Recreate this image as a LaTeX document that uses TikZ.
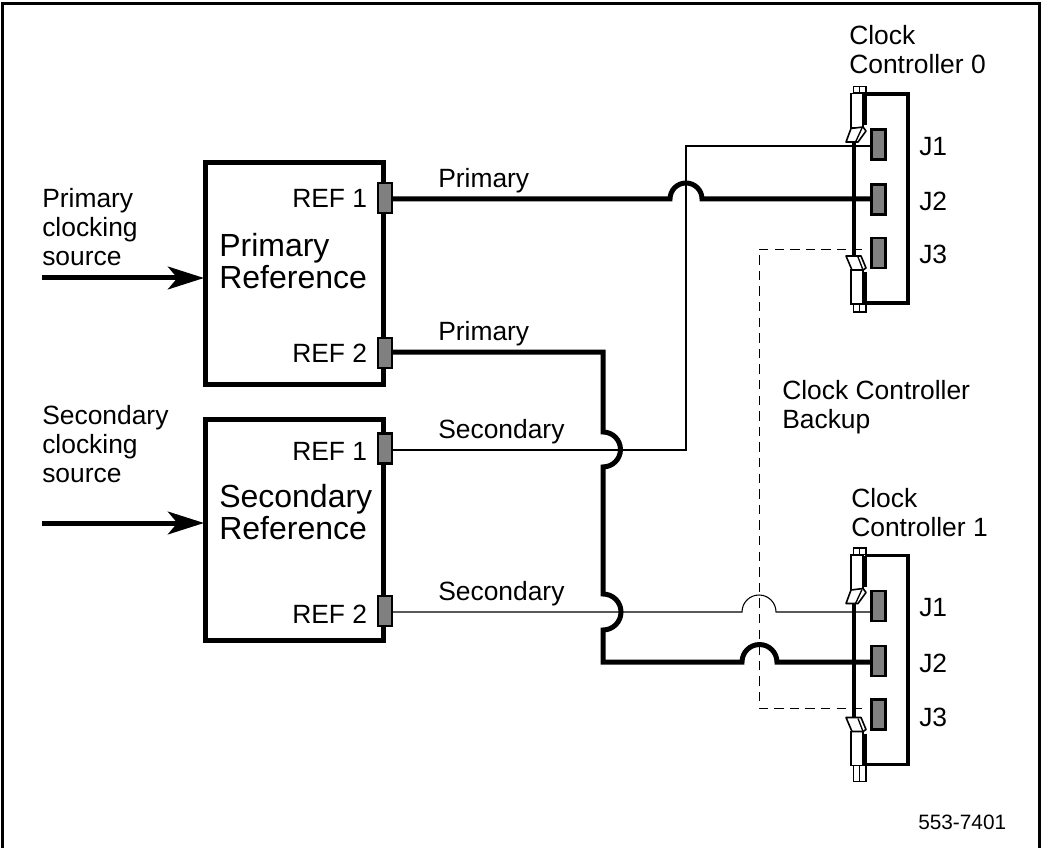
\documentclass[tikz,border=0pt]{standalone}
\usepackage{fontspec}
\setmainfont{Liberation Sans}
\usetikzlibrary{arrows.meta}
\definecolor{portgray}{gray}{0.5}
\tikzset{
 x=0.75pt,y=-0.75pt,
 frame/.style={draw=black,line width=2.6pt},
 unit/.style={draw=black,line width=3.75pt,minimum width=133.5pt,minimum height=165.75pt,inner sep=0pt,outer sep=0pt},
 port/.style={draw=black,fill=portgray,line width=1.9pt,minimum width=10.5pt,minimum height=22.5pt,inner sep=0pt,outer sep=0pt},
 thick wire/.style={line width=3.75pt,line join=miter},
 thin wire/.style={line width=0.8pt},
 dash wire/.style={line width=0.7pt,dash pattern=on 7pt off 4.7pt},
 feed/.style={line width=3.75pt,-{Stealth[length=27pt,width=17pt,inset=7pt]}},
 lab/.style={font=\fontsize{19.8}{21.75}\selectfont,inner sep=0pt,align=left,anchor=west},
 big/.style={font=\fontsize{24}{24}\selectfont,inner sep=0pt,align=left,anchor=west},
 small/.style={font=\fontsize{15.6}{18}\selectfont,inner sep=0pt,anchor=west},
 pullbody/.style={draw=black,fill=white,line width=1.2pt},
}
\newcommand{\controller}[3]{% name, y offset, bottom tab end
 \begin{scope}[shift={(0,#2)}]
  \draw[black,line width=2.6pt] (865,94) -- (908,94) -- (908,303) -- (865,303);
  \draw[black,line width=2.6pt] (865,94) -- (865,125);
  \draw[black,line width=2.6pt] (865,272) -- (865,303);
  \draw[black,line width=2.8pt] (854,142) -- (854,257);
  \node[port] (#1j1) at (878.5,144.5) {};
  \node[port] (#1j2) at (878.5,199.5) {};
  \node[port] (#1j3) at (878.5,253) {};
  \draw[pullbody] (853.5,86.5) rectangle (859.5,93);
  \draw[pullbody] (859.5,86.5) rectangle (866,93);
  \draw[pullbody] (851,93.5) rectangle (863,128);
  \draw[pullbody,line join=round] (846,142) -- (851,128.5) -- (863,127) -- (866,131) -- (858,142) -- cycle;
  \draw[line width=1pt] (855.5,142) -- (862,128);
  \draw[pullbody] (851,270) rectangle (863,304);
  \draw[pullbody] (853.5,304) rectangle (859.5,#3);
  \draw[pullbody] (859.5,304) rectangle (866,#3);
  \draw[pullbody,line join=round] (846,256) -- (861,256) -- (866,268) -- (863,270) -- (852,270) -- cycle;
  \draw[line width=1pt] (858,257) -- (863,270);
 \end{scope}
}
\begin{document}
\begin{tikzpicture}
\useasboundingbox (0,0) rectangle (1044,848);
\draw[frame,line cap=butt] (2.5,848) -- (2.5,3.5) -- (1039.5,3.5) -- (1039.5,848);
\node[unit] (pu) at (294,273.5) {};
\node[unit] (su) at (294,529.5) {};
\coordinate (h1a) at (670,199); \coordinate (h1b) at (702,199);
\coordinate (cnr1) at (603,352);
\coordinate (h2a) at (603,432); \coordinate (h2b) at (603,467);
\coordinate (h3a) at (603,594); \coordinate (h3b) at (603,630);
\coordinate (cnr2) at (603,662);
\coordinate (h4a) at (742,662);
\coordinate (h5a) at (742,612);
\coordinate (t1) at (686,450); \coordinate (t2) at (686,146);
\coordinate (d0) at (862,249); \coordinate (d1) at (759,249);
\coordinate (d2) at (759,708); \coordinate (d3) at (862,708);
\coordinate (in1s) at (42,278); \coordinate (in1e) at (204,278);
\coordinate (in2s) at (42,523); \coordinate (in2e) at (204,523);
\node[port] (pr1) at (385,198) {};
\node[port] (pr2) at (385,353) {};
\node[port] (sr1) at (385,448.5) {};
\node[port] (sr2) at (385,611) {};
\controller{a}{0}{312}
\controller{b}{461.5}{320}
\draw[thin wire] (sr1.east |- t1) -- (t1) -- (t2) -- (aj1.west |- t2);
\draw[thin wire] (sr2.east |- h5a) -- (h5a) arc[start angle=180,end angle=0,radius=12.75pt] -- (bj1.west |- h5a);
\draw[dash wire] (d0) -- (d1) -- (d2) -- (d3);
\draw[thick wire] (pr1.east |- h1a) -- (h1a) arc[start angle=180,end angle=0,radius=12pt] -- (aj2.west |- h1a);
\draw[thick wire] (pr2.east |- cnr1) -- (cnr1) -- (h2a) arc[start angle=90,end angle=-90,radius=13.1pt] -- (h3a) arc[start angle=90,end angle=-90,radius=13.5pt] -- (cnr2) -- (h4a) arc[start angle=180,end angle=0,radius=13.1pt] -- (bj2.west |- cnr2);
\draw[feed] (in1s) -- (in1e);
\draw[feed] (in2s) -- (in2e);
\node[lab] (l1) at (42,227) {Primary\\clocking\\source};
\node[lab] (l2) at (42,444) {Secondary\\clocking\\source};
\node[big] (l3) at (219,261) {Primary\\Reference};
\node[big] (l4) at (219,512) {Secondary\\Reference};
\node[lab] (l5) at (292,198) {REF 1};
\node[lab] (l6) at (292,353) {REF 2};
\node[lab] (l7) at (292,451) {REF 1};
\node[lab] (l8) at (292,614) {REF 2};
\node[lab] (l9) at (438,181) {Primary};
\node[lab] (l10) at (438,334) {Primary};
\node[lab] (l11) at (438,432) {Secondary};
\node[lab] (l12) at (438,594) {Secondary};
\node[lab] (l13) at (849,50) {Clock\\Controller 0};
\node[lab] (l14) at (851,513) {Clock\\Controller 1};
\node[lab] (l15) at (919,147) {J1};
\node[lab] (l16) at (919,201) {J2};
\node[lab] (l17) at (919,254) {J3};
\node[lab] (l18) at (919,608) {J1};
\node[lab] (l19) at (919,663) {J2};
\node[lab] (l20) at (919,717) {J3};
\node[lab] (l21) at (782,407) {Clock Controller\\Backup};
\node[small] (l22) at (918,822) {553-7401};
\end{tikzpicture}
\end{document}
